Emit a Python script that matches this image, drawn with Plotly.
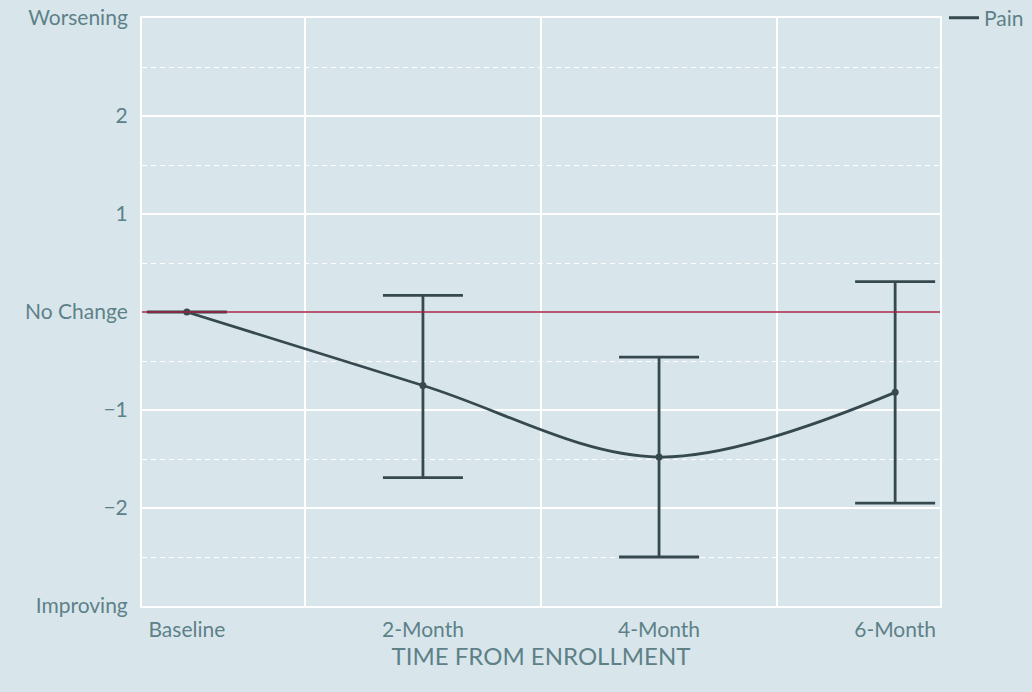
import plotly.graph_objects as go

categories = ["Baseline", "2-Month", "4-Month", "6-Month"]
pain_mean = [0.0, -0.75, -1.48, -0.82]
pain_upper = [0.0, 0.17, -0.46, 0.31]
pain_lower = [0.0, -1.69, -2.50, -1.95]
y_tick_vals = [-3, -2, -1, 0, 1, 2, 3]
y_tick_text = ["Improving", "\u22122", "\u22121", "No Change", "1", "2", "Worsening"]

xs = list(range(len(categories)))
err_plus = [u - m for u, m in zip(pain_upper, pain_mean)]
err_minus = [m - l for m, l in zip(pain_mean, pain_lower)]

BG = "#d8e6ec"
TXT = "#5e8188"
LINE = "#36494e"
FONT = "Lato"
FS = 21

fig = go.Figure()
fig.add_trace(go.Scatter(
    x=xs, y=pain_mean, name="Pain", mode="lines+markers", showlegend=False,
    line=dict(color=LINE, width=2.8, shape="spline", smoothing=1),
    marker=dict(color=LINE, size=7),
    error_y=dict(type="data", symmetric=False, array=err_plus, arrayminus=err_minus,
                 color=LINE, thickness=2.8, width=40),
))
# legend entry (line only)
fig.add_trace(go.Scatter(
    x=[None], y=[None], name="Pain", mode="lines",
    line=dict(color=LINE, width=3), showlegend=True,
))

fig.add_shape(type="line", xref="paper", x0=0, x1=1, yref="y", y0=0, y1=0,
              line=dict(color="#9e2040", width=1.3), layer="above")

fig.update_layout(
    width=1032, height=692,
    paper_bgcolor=BG, plot_bgcolor=BG,
    margin=dict(l=142, r=92, t=18, b=86, autoexpand=False),
    font=dict(family=FONT, color=TXT, size=FS),
    showlegend=True,
    legend=dict(x=1.005, xanchor="left", y=1.0, yanchor="middle", itemwidth=30,
                font=dict(size=FS, color=TXT), bgcolor="rgba(0,0,0,0)",
                tracegroupgap=0),
    xaxis=dict(
        range=[-0.19, 3.19], tickvals=xs, ticktext=categories,
        showgrid=False, zeroline=False,
        showline=True, linecolor="white", linewidth=2, mirror=True,
        ticks="", ticklabelstandoff=4,
        minor=dict(tickvals=[0.5, 1.5, 2.5], showgrid=True, gridcolor="white", gridwidth=1.5),
        title=dict(text="TIME FROM ENROLLMENT", font=dict(size=24, color=TXT), standoff=0),
    ),
    yaxis=dict(
        range=[-3, 3], tickvals=y_tick_vals, ticktext=y_tick_text,
        showgrid=True, gridcolor="white", gridwidth=1.5, zeroline=False,
        showline=True, linecolor="white", linewidth=2, mirror=True,
        ticks="", ticklabelstandoff=8,
        minor=dict(tickvals=[-2.5, -1.5, -0.5, 0.5, 1.5, 2.5], showgrid=True,
                   gridcolor="white", gridwidth=1, griddash="5px,4px"),
    ),
)

fig.write_html(
    "out.html",
    config={"displayModeBar": False},
    post_script="document.body.style.margin='0';document.body.style.background='%s';" % BG,
)
